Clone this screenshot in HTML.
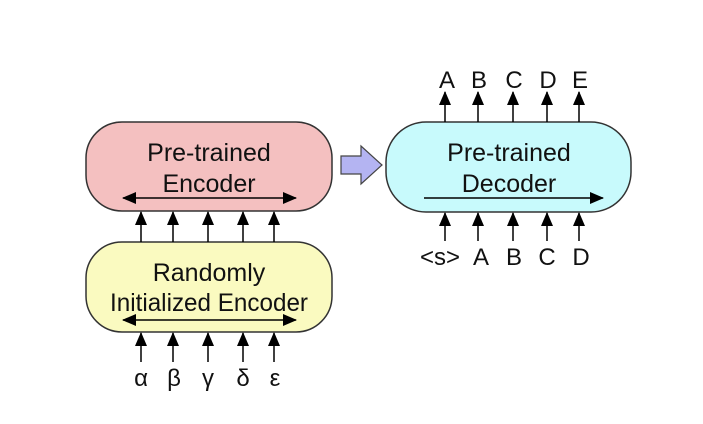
<!DOCTYPE html>
<html><head><style>body{margin:0;background:#fff}</style></head><body>
<svg width="703" height="419" xmlns="http://www.w3.org/2000/svg" font-family="Liberation Sans, sans-serif" fill="#111">
<defs><marker id="a" markerWidth="14" markerHeight="12" refX="13" refY="6" orient="auto" markerUnits="userSpaceOnUse"><path d="M0,0 L14,6 L0,12 z" fill="#000"/></marker>
<marker id="s" markerWidth="14" markerHeight="12" refX="1" refY="6" orient="auto" markerUnits="userSpaceOnUse"><path d="M14,0 L0,6 L14,12 z" fill="#000"/></marker></defs>
<rect x="86" y="122" width="246" height="89" rx="36" fill="#f4c0c0" stroke="#333" stroke-width="1.5"/>
<rect x="86" y="242" width="246" height="90" rx="36" fill="#fafac0" stroke="#333" stroke-width="1.5"/>
<rect x="386" y="122" width="245" height="90" rx="40" fill="#c8fafc" stroke="#333" stroke-width="1.5"/>
<path d="M341,156 H361 V146 L382,165 L361,184 V174 H341 Z" fill="#b4b4f2" stroke="#444" stroke-width="1.2"/>
<g font-size="25" text-anchor="middle">
<text x="209" y="161">Pre-trained</text><text x="209" y="192">Encoder</text>
<text x="209" y="281">Randomly</text><text x="209" y="311" textLength="198" lengthAdjust="spacingAndGlyphs">Initialized Encoder</text>
<text x="509" y="161">Pre-trained</text><text x="509" y="192">Decoder</text>
</g>
<g stroke="#000" stroke-width="1.5">
<line x1="123" y1="198" x2="296" y2="198" marker-start="url(#s)" marker-end="url(#a)"/>
<line x1="123" y1="320" x2="296" y2="320" marker-start="url(#s)" marker-end="url(#a)"/>
<line x1="424" y1="198" x2="603" y2="198" marker-end="url(#a)"/>
<g marker-end="url(#a)">
<line x1="141" y1="242" x2="141" y2="212"/><line x1="173" y1="242" x2="173" y2="212"/><line x1="208" y1="242" x2="208" y2="212"/><line x1="243" y1="242" x2="243" y2="212"/><line x1="274" y1="242" x2="274" y2="212"/>
<line x1="141" y1="362" x2="141" y2="333"/><line x1="173" y1="362" x2="173" y2="333"/><line x1="208" y1="362" x2="208" y2="333"/><line x1="243" y1="362" x2="243" y2="333"/><line x1="274" y1="362" x2="274" y2="333"/>
<line x1="445" y1="122" x2="445" y2="92"/><line x1="478" y1="122" x2="478" y2="92"/><line x1="513" y1="122" x2="513" y2="92"/><line x1="547" y1="122" x2="547" y2="92"/><line x1="579" y1="122" x2="579" y2="92"/>
<line x1="445" y1="241" x2="445" y2="213"/><line x1="478" y1="241" x2="478" y2="213"/><line x1="513" y1="241" x2="513" y2="213"/><line x1="547" y1="241" x2="547" y2="213"/><line x1="579" y1="241" x2="579" y2="213"/>
</g></g>
<g font-size="24" text-anchor="middle">
<text x="141" y="386">α</text><text x="174" y="386">β</text><text x="208" y="386">γ</text><text x="243" y="386">δ</text><text x="275" y="386">ε</text>
<text x="447" y="88">A</text><text x="479" y="88">B</text><text x="514" y="88">C</text><text x="548" y="88">D</text><text x="580" y="88">E</text>
<text x="440" y="265">&lt;s&gt;</text><text x="481" y="265">A</text><text x="514" y="265">B</text><text x="547" y="265">C</text><text x="581" y="265">D</text>
</g>
</svg>
</body></html>
